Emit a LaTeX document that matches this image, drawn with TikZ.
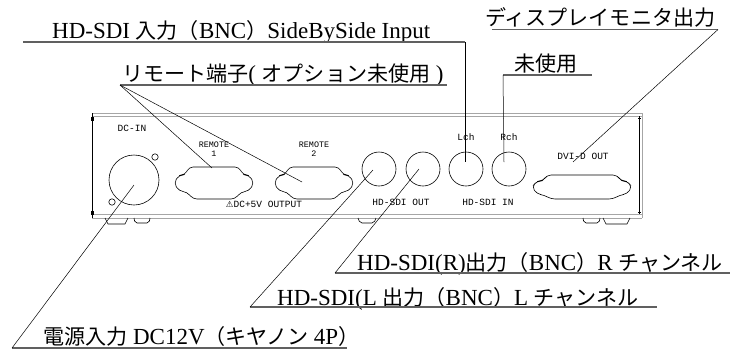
\documentclass[tikz,border=0pt]{standalone}
\usepackage{fontspec}
\setmainfont{Liberation Serif}
\newfontfamily\jp[Scale=0.915]{Noto Sans CJK JP}
\newfontfamily\panelfont{Liberation Mono}
\newfontfamily\symfont{DejaVu Sans}

\tikzset{
    lbl/.style={anchor=base west, inner sep=0pt, font=\fontsize{23}{25}\selectfont},
    pnl/.style={inner sep=0pt, font=\panelfont\fontsize{9.5}{10}\selectfont},
    uline/.style={gray!75!black, line width=1.1pt},
    lead/.style={black, line width=0.5pt},
    rimline/.style={gray!70, line width=0.9pt},
    portline/.style={black, line width=0.6pt},
    dsub/.pic={\draw[portline, rounded corners=4pt] (-25,-16) -- (25,-16) -- (29,-8) -- (35,-8)
        -- (40,0) -- (35,8) -- (27,9) -- (21,16) -- (-21,16) -- (-27,9) -- (-35,8)
        -- (-40,0) -- (-35,-8) -- (-29,-8) -- cycle;},
    dvi/.pic={\draw[portline, rounded corners=4pt] (-35,-12) -- (35,-12) -- (39,-6) -- (45,-6)
        -- (50,0) -- (45,7) -- (38,8) -- (31,12) -- (-31,12) -- (-38,8) -- (-45,7)
        -- (-50,0) -- (-45,-6) -- (-39,-6) -- cycle;}
}

\begin{document}
\begin{tikzpicture}[x=1pt, y=-1pt]
    \useasboundingbox (0,0) rectangle (745,354);

    % Panel
    \draw[rimline] (92,113) -- (642,113); \draw[rimline] (92,116.5) -- (642,116.5);
    \draw[rimline] (92,214) -- (642,214); \draw[rimline] (92,218) -- (642,218);
    \draw[portline] (92,113) -- (92,218); \draw[rimline] (642,113) -- (642,218);
    \draw[portline] (639,116) -- (639,214);
    \filldraw[portline] (91,117) rectangle (93,120); \filldraw[portline] (91,211) rectangle (93,214);
    \draw[portline] (638,118) -- (641,118) (638,212) -- (641,212);

    % Feet
    \draw[portline] (105,218) -- (108,224) -- (125,224) -- (128,218);
    \draw[portline, rounded corners=2pt] (134,218) -- (135,223) -- (149,223) -- (150,218);
    \draw[portline, rounded corners=2pt] (358,218) -- (360,223) -- (374,223) -- (376,218);
    \draw[portline, rounded corners=2pt] (583,218) -- (584,223) -- (599,223) -- (600,218);
    \draw[portline] (603,218) -- (606,224) -- (627,224) -- (630,218);

    % Connectors
    \coordinate (dcin) at (134,180);
    \coordinate (rem1) at (214,183); \coordinate (rem2) at (314,183);
    \coordinate (outL) at (379,169); \coordinate (outR) at (423,169);
    \coordinate (lch) at (466,169); \coordinate (rch) at (509,169);
    \coordinate (dviport) at (582,187);

    \draw[portline] (dcin) circle (25pt);
    \draw[portline] (155,157) circle (3.2pt); \draw[portline] (112,202) circle (3.2pt);
    \foreach \p in {outL,outR,lch,rch} \draw[portline] (\p) circle (17pt);
    \pic at (rem1) {dsub}; \pic at (rem2) {dsub};
    \pic at (dviport) {dvi};

    \node[pnl] (dcinLbl) at (132,128) {DC-IN};
    \node[pnl, font=\panelfont\fontsize{8.4}{9.5}\selectfont, align=center] (rem1Lbl) at (214,149) {REMOTE\\1};
    \node[pnl, font=\panelfont\fontsize{8.4}{9.5}\selectfont, align=center] (rem2Lbl) at (314,149) {REMOTE\\2};
    \node[pnl] (warnLbl) at (264,204) {{\symfont\fontsize{8.5}{9}\selectfont ⚠}DC+5V OUTPUT};
    \node[pnl] (outLbl) at (401,202) {HD-SDI OUT};
    \node[pnl] (inLbl) at (488,202) {HD-SDI IN};
    \node[pnl] (lchLbl) at (466,137) {Lch};
    \node[pnl] (rchLbl) at (509,137) {Rch};
    \node[pnl] (dviLbl) at (583,156) {DVI-D OUT};

    % Leader tips
    \coordinate (dcinTip) at (134,185);
    \coordinate (rem1Tip) at (212,168); \coordinate (rem2Tip) at (302,182);
    \coordinate (outLTip) at (373,170); \coordinate (outRTip) at (419,169);
    \coordinate (lchTip) at (465,162); \coordinate (rchTip) at (504,162);
    \coordinate (dviTip) at (573,162);

    % Labels
    \node[lbl] (sbsIn) at (52,38) {HD-SDI {\jp 入力（}BNC{\jp ）}SideBySide Input};
    \node[lbl] (monOut) at (485,25) {\jp ディスプレイモニタ出力};
    \node[lbl] (unused) at (514,71) {\jp 未使用};
    \node[lbl] (remote) at (122,81) {{\jp リモート端子}( {\jp オプション未使用} )};
    \node[lbl] (sdiR) at (357,270) {HD-SDI(R){\jp 出力（}BNC{\jp ）}R {\jp チャンネル}};
    \node[lbl] (sdiL) at (277,305) {HD-SDI(L {\jp 出力（}BNC{\jp ）}L {\jp チャンネル}};
    \node[lbl] (power) at (43,344) {{\jp 電源入力} DC12V{\jp （キヤノン} 4P{\jp ）}};

    % Underlines
    \coordinate (sbsA) at (23,42); \coordinate (sbsB) at (465,42);
    \coordinate (monA) at (492,29.5); \coordinate (monB) at (718,29.5);
    \coordinate (unA) at (503,75); \coordinate (unB) at (592,75);
    \coordinate (remA) at (120,85); \coordinate (remB) at (447,85);
    \coordinate (sdiRA) at (335,273); \coordinate (sdiRB) at (730,273);
    \coordinate (sdiLA) at (250,307); \coordinate (sdiLB) at (657,307);
    \coordinate (powA) at (12,348); \coordinate (powB) at (347,348);
    \foreach \a/\b in {sbsA/sbsB, monA/monB, unA/unB, remA/remB, sdiRA/sdiRB, sdiLA/sdiLB, powA/powB}
        \draw[uline] (\a) -- (\b);

    % Leaders
    \draw[lead] (sbsB) -- (lchTip);
    \draw[lead] (monB) -- (dviTip);
    \draw[lead] (unA) -- (rchTip);
    \draw[lead] (remA) -- (rem1Tip); \draw[lead] (remA) -- (rem2Tip);
    \draw[lead] (sdiRA) -- (outRTip);
    \draw[lead] (sdiLA) -- (outLTip);
    \draw[lead] (powA) -- (dcinTip);
\end{tikzpicture}
\end{document}
